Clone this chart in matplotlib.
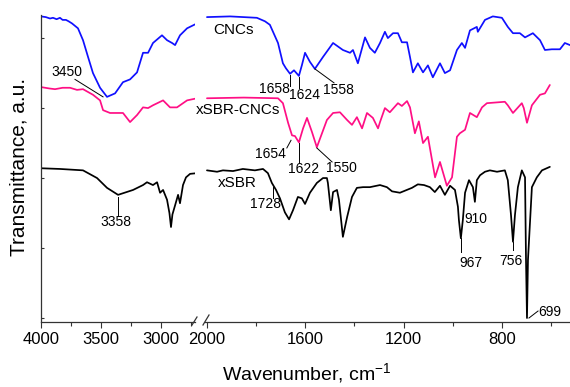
import matplotlib
matplotlib.use("Agg")
import matplotlib.pyplot as plt
from matplotlib.lines import Line2D

plt.rcParams["font.family"] = ["Liberation Sans", "DejaVu Sans"]
plt.rcParams["mathtext.fontset"] = "custom"
plt.rcParams["mathtext.rm"] = "Liberation Sans"
plt.rcParams["mathtext.default"] = "regular"

# ---- data (wavenumber, transmittance a.u.) ----
# high wavenumber part (4000 - 2700)
cnc_hi_wn = [4000, 3960, 3925, 3900, 3870, 3842, 3820, 3792, 3770, 3742, 3692, 3650, 3608, 3567, 3508,
             3450, 3383, 3317, 3258, 3200, 3150, 3108, 3067, 2992, 2950, 2908, 2883, 2842, 2783, 2700]
cnc_hi_t = [4.31, 4.30, 4.28, 4.29, 4.27, 4.29, 4.26, 4.26, 4.24, 4.21, 4.14, 3.97, 3.73, 3.50, 3.29,
            3.16, 3.21, 3.37, 3.41, 3.51, 3.79, 3.79, 3.93, 4.04, 3.97, 3.93, 3.90, 4.04, 4.14, 4.21]

mix_hi_wn = [4000, 3930, 3883, 3820, 3758, 3700, 3650, 3567, 3508, 3483, 3425, 3317, 3258, 3200, 3150,
             3108, 3067, 2983, 2925, 2867, 2783, 2700]
mix_hi_t = [3.30, 3.28, 3.27, 3.29, 3.29, 3.26, 3.27, 3.19, 3.11, 2.97, 2.93, 2.93, 2.80, 2.90, 3.01,
            3.00, 3.04, 3.11, 3.01, 3.01, 3.11, 3.14]

sbr_hi_wn = [4000, 3842, 3650, 3533, 3450, 3358, 3233, 3150, 3117, 3067, 3033, 3008, 2983, 2950, 2930,
             2917, 2905, 2883, 2858, 2842, 2817, 2792, 2758, 2700]
sbr_hi_t = [2.14, 2.13, 2.11, 2.00, 1.86, 1.76, 1.83, 1.90, 1.94, 1.90, 1.94, 1.79, 1.83, 1.69, 1.50,
            1.30, 1.48, 1.61, 1.76, 1.64, 1.90, 2.01, 2.06, 2.07]

# low wavenumber part (2000 - 520)
cnc_lo_wn = [2000, 1906, 1797, 1764, 1744, 1711, 1691, 1679, 1662, 1646, 1626, 1614, 1601, 1581, 1561,
             1528, 1487, 1447, 1418, 1406, 1386, 1357, 1337, 1317, 1296, 1276, 1264, 1243, 1223, 1207,
             1186, 1174, 1162, 1142, 1121, 1101, 1081, 1052, 1032, 1011, 983, 963, 950, 930, 902,
             898, 869, 837, 800, 776, 755, 727, 706, 674, 645, 625, 597, 564, 544, 523]
cnc_lo_t = [4.30, 4.31, 4.29, 4.24, 4.19, 3.93, 3.64, 3.57, 3.49, 3.54, 3.46, 3.61, 3.79, 3.66, 3.56,
            3.73, 3.93, 3.83, 3.79, 3.83, 3.64, 4.01, 3.86, 3.79, 3.93, 4.09, 4.00, 4.07, 4.07, 3.94,
            3.94, 3.73, 3.51, 3.64, 3.51, 3.61, 3.44, 3.64, 3.50, 3.54, 3.83, 3.93, 3.86, 4.11, 4.16,
            4.09, 4.26, 4.31, 4.29, 4.16, 4.07, 4.07, 4.01, 4.07, 3.97, 3.83, 3.84, 3.84, 3.93, 3.90]

mix_lo_wn = [2000, 1850, 1711, 1691, 1670, 1654, 1642, 1626, 1609, 1593, 1573, 1553, 1532, 1512, 1487,
             1459, 1430, 1410, 1390, 1369, 1349, 1325, 1304, 1296, 1276, 1256, 1223, 1207, 1186, 1174,
             1154, 1138, 1121, 1101, 1072, 1052, 1024, 1003, 983, 971, 950, 930, 902, 881, 861,
             788, 776, 755, 719, 711, 698, 678, 645, 625, 605]
mix_lo_t = [3.14, 3.15, 3.14, 3.07, 2.79, 2.61, 2.60, 2.51, 2.71, 2.86, 2.66, 2.44, 2.64, 2.83, 2.93,
            2.94, 2.83, 2.76, 2.87, 2.71, 2.93, 2.86, 2.71, 2.80, 3.00, 2.94, 3.07, 3.03, 3.10, 3.01,
            2.64, 2.81, 2.50, 2.59, 2.01, 2.23, 1.89, 2.01, 2.59, 2.64, 2.69, 2.93, 2.87, 3.01, 3.07,
            3.09, 3.04, 2.93, 3.07, 3.00, 2.79, 3.04, 3.19, 3.21, 3.33]

sbr_lo_wn = [2000, 1959, 1935, 1894, 1854, 1805, 1772, 1752, 1736, 1719, 1703, 1683, 1666, 1650, 1630,
             1614, 1601, 1581, 1553, 1528, 1512, 1508, 1496, 1487, 1471, 1463, 1447, 1430, 1410, 1390,
             1365, 1337, 1296, 1268, 1247, 1215, 1166, 1142, 1117, 1093, 1073, 1052, 1032, 1011, 991,
             979, 975, 967, 959, 950, 934, 918, 910, 902, 889, 869, 849, 820, 788, 776,
             763, 755, 747, 735, 719, 706, 702, 698, 694, 678, 658, 637, 605]
sbr_lo_t = [2.11, 2.09, 2.11, 2.10, 2.13, 2.11, 2.13, 2.07, 1.93, 1.83, 1.71, 1.51, 1.41, 1.54, 1.73,
            1.71, 1.63, 1.79, 1.93, 2.00, 2.00, 1.93, 1.54, 1.80, 1.83, 1.69, 1.16, 1.44, 1.73, 1.86,
            1.87, 1.87, 1.90, 1.87, 1.81, 1.79, 1.86, 1.91, 1.90, 1.87, 1.80, 1.89, 1.76, 1.89, 1.83,
            1.59, 1.40, 1.14, 1.40, 1.79, 1.97, 1.87, 1.66, 1.97, 2.04, 2.09, 2.11, 2.09, 2.11, 1.97,
            1.47, 1.09, 1.47, 1.87, 2.11, 2.01, 0.83, 0.00, 0.83, 1.87, 2.01, 2.11, 2.16]

hi_ticks = [4000, 3500, 3000]
hi_minor = [3750, 3250, 2750]
lo_ticks = [2000, 1600, 1200, 800]
lo_minor = [1800, 1400, 1000, 600]

blue = "#1010ff"
pink = "#ff0f85"
spine_c = "#333333"

# ---- figure / broken axis ----
W, H = 570, 387
fig = plt.figure(figsize=(W / 100, H / 100), dpi=100)


def px_box(x0, x1, y_top, y_bot):
    return [x0 / W, 1 - y_bot / H, (x1 - x0) / W, (y_bot - y_top) / H]


ax1 = fig.add_axes(px_box(41, 195, 15, 322))
ax2 = fig.add_axes(px_box(205, 570, 15, 322))

lw = 1.25
style = dict(lw=lw, solid_joinstyle="round", solid_capstyle="round")
ax1.plot(cnc_hi_wn, cnc_hi_t, color=blue, **style)
ax1.plot(mix_hi_wn, mix_hi_t, color=pink, **style)
ax1.plot(sbr_hi_wn, sbr_hi_t, color="k", **style)
ax2.plot(cnc_lo_wn, cnc_lo_t, color=blue, **style)
ax2.plot(mix_lo_wn, mix_lo_t, color=pink, **style)
ax2.plot(sbr_lo_wn, sbr_lo_t, color="k", **style)

ax1.set_xlim(4000, 2717)
ax2.set_xlim(2008, 523)
for ax in (ax1, ax2):
    ax.set_ylim(-0.057, 4.33)
    ax.spines["top"].set_visible(False)
    ax.spines["right"].set_visible(False)
    ax.spines["bottom"].set_color(spine_c)
    ax.spines["bottom"].set_linewidth(0.9)
    ax.tick_params(axis="x", which="major", direction="out", length=4.5, width=0.8,
                   labelsize=12, pad=3, color=spine_c)
    ax.tick_params(axis="x", which="minor", direction="out", length=3, width=0.8, color=spine_c)
    ax.patch.set_visible(False)

ax1.set_xticks(hi_ticks)
ax1.set_xticks(hi_minor, minor=True)
ax2.set_xticks(lo_ticks)
ax2.set_xticks(lo_minor, minor=True)

ax1.spines["left"].set_color(spine_c)
ax1.spines["left"].set_linewidth(0.9)
ax1.set_yticks([0, 1, 2, 3, 4])
ax1.tick_params(axis="y", direction="in", length=2.5, width=0.8, labelleft=False, color=spine_c)
ax2.spines["left"].set_visible(False)
ax2.tick_params(axis="y", left=False, labelleft=False)

# break marks on the x axis
for xa, xb, ya, yb in [(192, 197, 325, 317), (203, 209, 325, 315)]:
    fig.add_artist(Line2D([xa / W, xb / W], [1 - ya / H, 1 - yb / H], color=spine_c, lw=0.9))

# ---- annotations ----
fs = 10
lc = dict(color="k", lw=0.7)
ax1.text(3783, 3.51, "3450", ha="center", va="center", fontsize=fs)
ax1.plot([3717, 3483], [3.41, 3.16], **lc)
ax1.text(3375, 1.37, "3358", ha="center", va="center", fontsize=fs)
ax1.plot([3358, 3358], [1.73, 1.47], **lc)

ax2.text(1894, 4.11, "CNCs", ha="center", va="center", fontsize=11)
ax2.text(1874, 2.97, "xSBR-CNCs", ha="center", va="center", fontsize=11)
ax2.text(1878, 1.93, "xSBR", ha="center", va="center", fontsize=11)

ax2.text(1727, 3.27, "1658", ha="center", va="center", fontsize=fs)
ax2.plot([1662, 1662], [3.47, 3.31], **lc)
ax2.text(1605, 3.19, "1624", ha="center", va="center", fontsize=fs)
ax2.plot([1626, 1626], [3.44, 3.29], **lc)
ax2.text(1467, 3.26, "1558", ha="center", va="center", fontsize=fs)
ax2.plot([1561, 1483], [3.56, 3.36], **lc)

ax2.text(1740, 2.34, "1654", ha="center", va="center", fontsize=fs)
ax2.plot([1675, 1658], [2.43, 2.54], **lc)
ax2.text(1609, 2.13, "1622", ha="center", va="center", fontsize=fs)
ax2.plot([1626, 1626], [2.50, 2.23], **lc)
ax2.text(1451, 2.14, "1550", ha="center", va="center", fontsize=fs)
ax2.plot([1553, 1491], [2.43, 2.23], **lc)

ax2.text(1762, 1.63, "1728", ha="center", va="center", fontsize=fs)
ax2.plot([1732, 1732], [1.87, 1.71], **lc)
ax2.text(906, 1.41, "910", ha="center", va="center", fontsize=fs)
ax2.text(926, 0.79, "967", ha="center", va="center", fontsize=fs)
ax2.plot([967, 967], [1.14, 0.94], **lc)
ax2.text(763, 0.81, "756", ha="center", va="center", fontsize=fs)
ax2.plot([755, 755], [1.09, 0.97], **lc)
ax2.text(605, 0.09, "699", ha="center", va="center", fontsize=fs)
ax2.plot([690, 653], [0.0, 0.10], **lc)

# axis titles
fig.text(19 / W, 1 - 167 / H, "Transmittance, a.u.", rotation=90, ha="center", va="center", fontsize=15)
fig.text(307 / W, 1 - 373 / H, r"Wavenumber, cm$^{-1}$", ha="center", va="center", fontsize=14)

fig.savefig("out.png", dpi=100)
plt.close(fig)
